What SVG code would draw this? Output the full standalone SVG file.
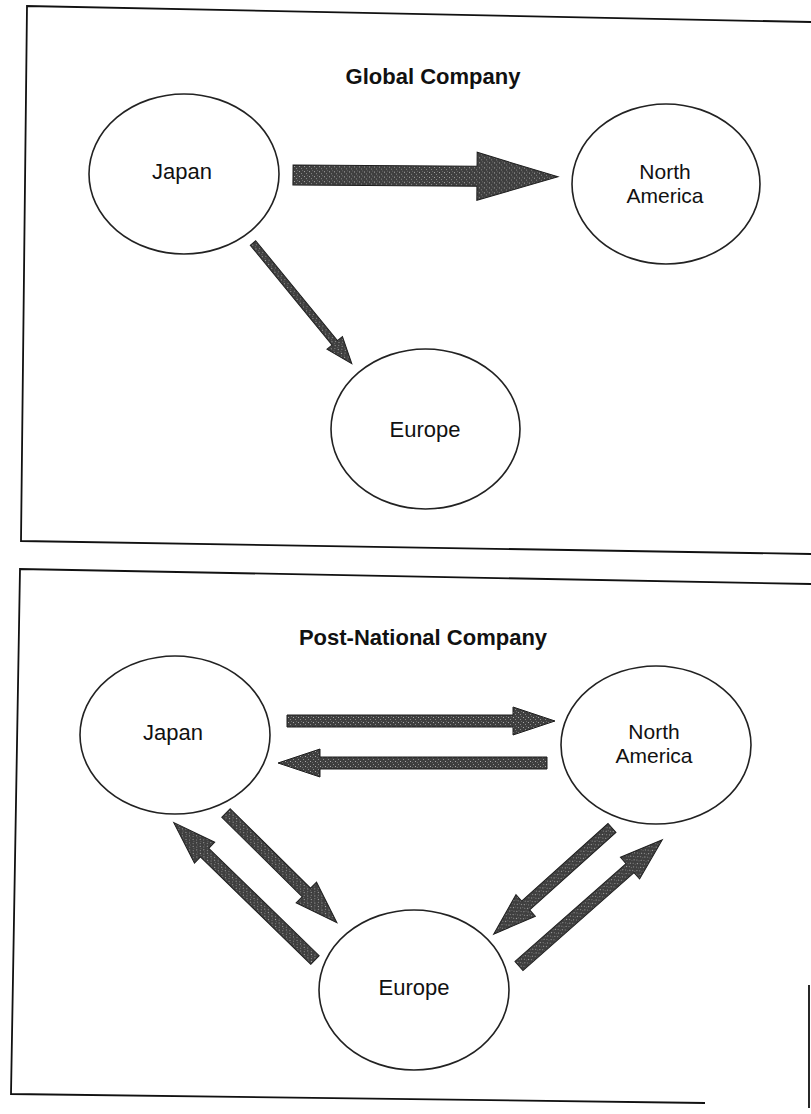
<svg xmlns="http://www.w3.org/2000/svg" width="811" height="1114" viewBox="0 0 811 1114">
<defs>
<pattern id="stip" width="5" height="5" patternUnits="userSpaceOnUse">
<rect width="5" height="5" fill="#3f3f3f"/>
<rect x="1" y="1" width="1" height="1" fill="#a8a8a8"/>
<rect x="3" y="3" width="1" height="1" fill="#8a8a8a"/>
<rect x="4" y="0" width="1" height="1" fill="#6a6a6a"/>
</pattern>
</defs>
<style>
.frame{fill:none;stroke:#111;stroke-width:1.8}
.node{fill:#fff;stroke:#222;stroke-width:1.6}
.lbl{font-family:"Liberation Sans",Arial,sans-serif;font-size:22px;fill:#111;text-anchor:middle}
.lbl2{font-family:"Liberation Sans",Arial,sans-serif;font-size:21px;fill:#111;text-anchor:middle}
.title{font-family:"Liberation Sans",Arial,sans-serif;font-size:22px;font-weight:bold;fill:#111;text-anchor:middle}
.arr{fill:url(#stip);stroke:#1e1e1e;stroke-width:1}
</style>
<rect width="811" height="1114" fill="#fff"/>
<g id="frames">
<polyline class="frame" points="811,22 27,6 21,541 811,554"/>
<polyline class="frame" points="811,584 20,569 11,1094 705,1103"/>
<line class="frame" x1="809" y1="985" x2="809" y2="1108"/>
</g>
<g id="title-global"><text class="title" x="433" y="84">Global Company</text></g>
<g id="title-post"><text class="title" x="423" y="645">Post-National Company</text></g>

<g id="connectors">
<polygon class="arr" transform="translate(293,175) rotate(0.4)" points="0,-10 184,-10 184,-24 265,0 184,24 184,10 0,10"/>
<polygon class="arr" transform="translate(253,243) rotate(50.7)" points="0,-3.5 129,-3.5 129,-10 156,0 129,10 129,3.5 0,3.5"/>
<polygon class="arr" transform="translate(287,721)" points="0,-6 226,-6 226,-14 268,0 226,14 226,6 0,6"/>
<polygon class="arr" transform="translate(547,763) rotate(180)" points="0,-6 227,-6 227,-14 269,0 227,14 227,6 0,6"/>
<polygon class="arr" transform="translate(226,813) rotate(44.7)" points="0,-6 113,-6 113,-14.5 156,0 113,14.5 113,6 0,6"/>
<polygon class="arr" transform="translate(315,960) rotate(-135.8)" points="0,-6 154,-6 154,-14.5 197,0 154,14.5 154,6 0,6"/>
<polygon class="arr" transform="translate(612,828) rotate(138.1)" points="0,-6 116,-6 116,-14.5 159,0 116,14.5 116,6 0,6"/>
<polygon class="arr" transform="translate(519,966) rotate(-41.4)" points="0,-6 148,-6 148,-14.5 191,0 148,14.5 148,6 0,6"/>
</g>

<g id="g-japan"><ellipse class="node" cx="184" cy="174" rx="95" ry="80"/><text class="lbl" x="182" y="179">Japan</text></g>
<g id="g-na"><ellipse class="node" cx="666" cy="184" rx="94" ry="80"/><text class="lbl2" x="665" y="179">North</text><text class="lbl2" x="665" y="203">America</text></g>
<g id="g-europe"><ellipse class="node" cx="425.5" cy="429" rx="94.5" ry="80"/><text class="lbl" x="425" y="437">Europe</text></g>

<g id="p-japan"><ellipse class="node" cx="175" cy="735" rx="95" ry="79"/><text class="lbl" x="173" y="740">Japan</text></g>
<g id="p-na"><ellipse class="node" cx="656" cy="745" rx="95" ry="79"/><text class="lbl2" x="654" y="739">North</text><text class="lbl2" x="654" y="763">America</text></g>
<g id="p-europe"><ellipse class="node" cx="414" cy="990" rx="95" ry="80"/><text class="lbl" x="414" y="995">Europe</text></g>
</svg>
